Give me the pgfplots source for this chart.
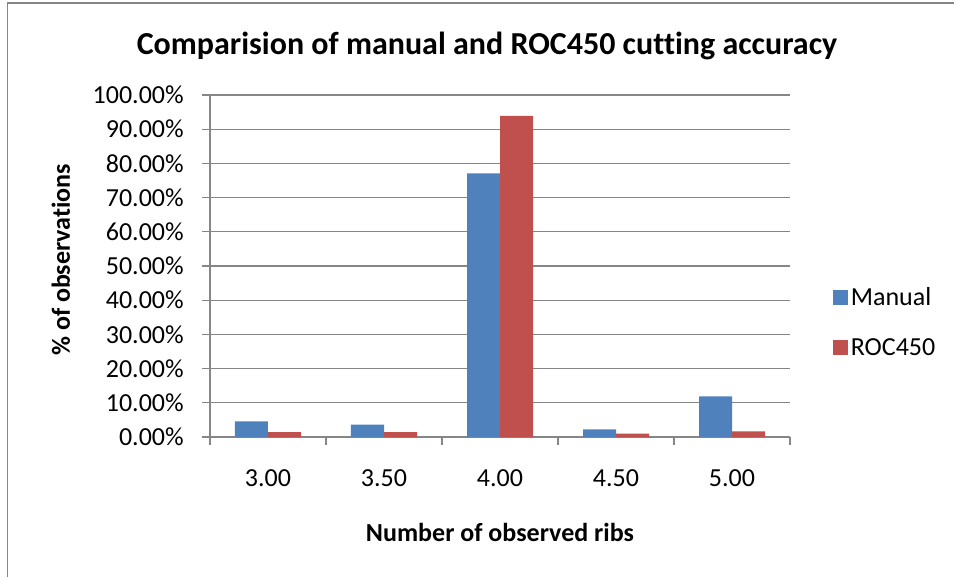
\documentclass[border=0pt]{standalone}
\usepackage{pgfplots}
\pgfplotsset{compat=1.18}
\usepackage{fontspec}
\setmainfont{Carlito}[Ligatures=NoCommon]
\definecolor{manualblue}{HTML}{4F81BD}
\definecolor{rocred}{HTML}{C0504D}
\definecolor{gridgray}{HTML}{868686}
\begin{document}
\begin{tikzpicture}
\useasboundingbox (0,0) rectangle (715.5pt,-432.75pt);
\draw[gridgray, line width=1.3pt] (5.6pt,-440pt) -- (5.6pt,-2pt) -- (720pt,-2pt);
\node[font=\fontsize{24}{28}\selectfont\bfseries, anchor=center] at (365.25pt,-34.5pt) {Comparision of manual and ROC450 cutting accuracy};
\begin{axis}[
  at={(157.5pt,-327.75pt)}, anchor=south west,
  scale only axis, width=435pt, height=256.5pt,
  font=\fontsize{19.5}{23}\selectfont,
  ybar=0pt, bar width=24.75pt,
  xmin=-0.5, xmax=4.5, ymin=0, ymax=100,
  xtick={0,1,2,3,4},
  xticklabels={3.00,3.50,4.00,4.50,5.00},
  minor xtick={-0.5,0.5,1.5,2.5,3.5,4.5},
  ytick={0,10,...,100},
  yticklabels={0.00\%,10.00\%,20.00\%,30.00\%,40.00\%,50.00\%,60.00\%,70.00\%,80.00\%,90.00\%,100.00\%},
  axis x line*=bottom, axis y line*=left,
  axis line style={gridgray, line width=1pt},
  tick align=outside,
  major tick length=6pt, minor tick length=6pt,
  major x tick style={draw=none},
  minor x tick style={gridgray, line width=1pt},
  major y tick style={gridgray, line width=1pt},
  ymajorgrids, major grid style={gridgray, line width=1pt},
  xticklabel style={anchor=center, yshift=-25pt},
  yticklabel style={anchor=east, inner sep=0pt, xshift=-13.5pt},
  xlabel={\bfseries Number of observed ribs},
  ylabel={\bfseries \% of observations},
  xlabel style={at={(0.5,-0.278)}, anchor=center},
  ylabel style={at={(-0.257,0.518)}, anchor=center, rotate=0},
  legend style={draw=none, fill=none, at={(1.074,0.335)}, anchor=west, inner sep=0pt,
    row sep=19pt, font=\fontsize{19.5}{23}\selectfont},
  legend cell align=left,
  legend image code/.code={\fill[#1] (0pt,-5.6pt) rectangle (11.25pt,5.6pt);},
]
\addplot[fill=manualblue, draw=none] coordinates {(0,4.6) (1,3.6) (2,77.1) (3,2.25) (4,11.9)};
\addplot[fill=rocred, draw=none] coordinates {(0,1.4) (1,1.4) (2,93.9) (3,1.0) (4,1.65)};
\legend{Manual, ROC450}
\end{axis}
\end{tikzpicture}
\end{document}
